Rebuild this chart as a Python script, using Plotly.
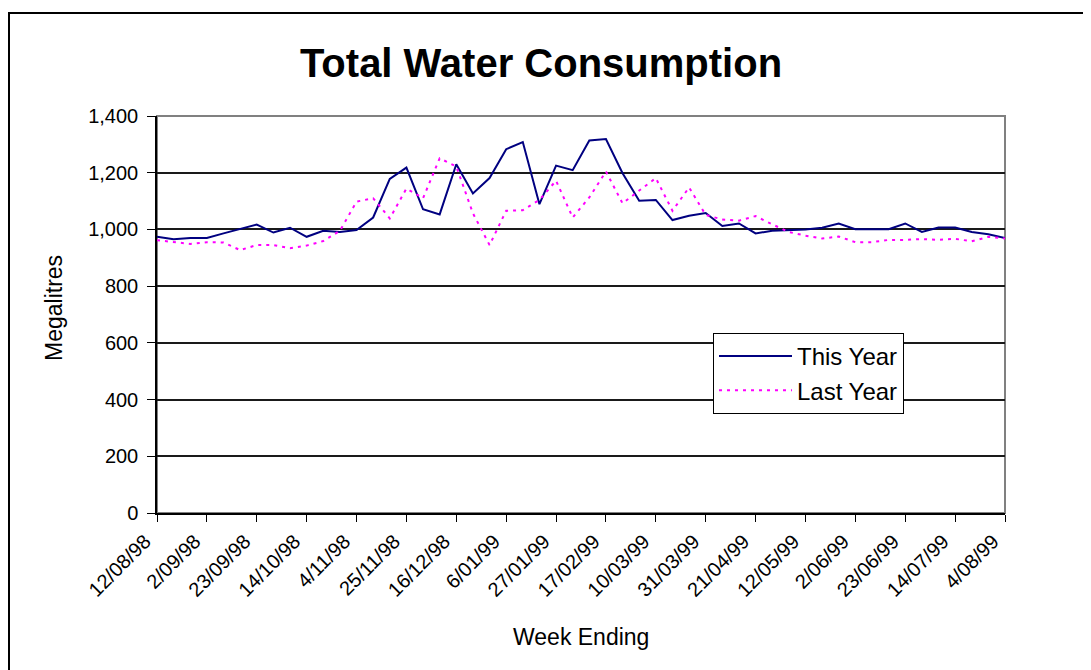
import plotly.graph_objects as go

weeks = ["12/08/98", "19/08/98", "26/08/98", "2/09/98", "9/09/98", "16/09/98", "23/09/98",
         "30/09/98", "7/10/98", "14/10/98", "21/10/98", "28/10/98", "4/11/98", "11/11/98",
         "18/11/98", "25/11/98", "2/12/98", "9/12/98", "16/12/98", "23/12/98", "30/12/98",
         "6/01/99", "13/01/99", "20/01/99", "27/01/99", "3/02/99", "10/02/99", "17/02/99",
         "24/02/99", "3/03/99", "10/03/99", "17/03/99", "24/03/99", "31/03/99", "7/04/99",
         "14/04/99", "21/04/99", "28/04/99", "5/05/99", "12/05/99", "19/05/99", "26/05/99",
         "2/06/99", "9/06/99", "16/06/99", "23/06/99", "30/06/99", "7/07/99", "14/07/99",
         "21/07/99", "28/07/99", "4/08/99"]

tick_labels = ["12/08/98", "2/09/98", "23/09/98", "14/10/98", "4/11/98", "25/11/98",
               "16/12/98", "6/01/99", "27/01/99", "17/02/99", "10/03/99", "31/03/99",
               "21/04/99", "12/05/99", "2/06/99", "23/06/99", "14/07/99", "4/08/99"]

this_year = [974, 965, 970, 970, 986, 1001, 1017, 989, 1006, 974, 995, 991, 998, 1042,
             1178, 1218, 1071, 1053, 1230, 1127, 1181, 1283, 1308, 1089, 1225, 1209,
             1314, 1319, 1198, 1101, 1104, 1033, 1048, 1058, 1012, 1021, 986, 995, 998,
             1000, 1006, 1021, 1001, 1001, 1001, 1021, 991, 1007, 1007, 991, 983, 970]

last_year = [962, 955, 949, 955, 954, 927, 945, 945, 934, 943, 959, 995, 1098, 1110,
             1039, 1144, 1110, 1251, 1222, 1057, 945, 1066, 1068, 1104, 1172, 1042,
             1113, 1204, 1092, 1137, 1181, 1066, 1148, 1051, 1035, 1031, 1047, 1018, 991,
             978, 968, 975, 955, 955, 963, 963, 966, 963, 967, 958, 974, 968]

FONT = "Arial, Liberation Sans, sans-serif"
OFF = 8  # page body margin
W, H = 1091 - OFF, 670 - OFF
# plot area in page pixels
L, R, T, B = 157, 1005, 116, 513
pw, ph = R - L, B - T

def px(x):
    return (x - L) / pw

def py(y):
    return (B - y) / ph

fig = go.Figure()
fig.add_trace(go.Scatter(x=weeks, y=this_year, mode="lines", name="This Year",
                         line=dict(color="#000080", width=2)))
fig.add_trace(go.Scatter(x=weeks, y=last_year, mode="lines", name="Last Year",
                         line=dict(color="#FF00FF", width=2, dash="3px,5px")))

fig.update_layout(
    width=W, height=H,
    margin=dict(l=L - OFF, r=(W + OFF) - R, t=T - OFF, b=(H + OFF) - B),
    paper_bgcolor="white", plot_bgcolor="white",
    font=dict(family=FONT, color="black", size=20),
    title=dict(text="<b>Total Water Consumption</b>", x=(541 - OFF) / W, xanchor="center",
               xref="container", yref="container", y=1 - (63 - OFF) / H, yanchor="middle",
               font=dict(size=40, family=FONT, color="black")),
    showlegend=True,
    legend=dict(x=px(713), y=py(333), xanchor="left", yanchor="top",
                bgcolor="white", bordercolor="black", borderwidth=1,
                font=dict(size=24, family=FONT, color="black"),
                itemwidth=73, tracegroupgap=0),
    xaxis=dict(type="category", categoryorder="array", categoryarray=weeks,
               range=[0, len(weeks) - 1], tickmode="array", tickvals=tick_labels,
               ticktext=tick_labels, tickangle=-45, ticks="outside", ticklen=7,
               tickcolor="black", tickwidth=1, showline=True, linecolor="black",
               linewidth=1.5, showgrid=False, zeroline=False, ticklabelshift=-12,
               tickfont=dict(size=20, family=FONT, color="black")),
    yaxis=dict(range=[0, 1400], dtick=200, tick0=0, tickformat=",", ticks="outside",
               ticklen=8, tickcolor="black", tickwidth=1, showline=True,
               linecolor="black", linewidth=1.5, showgrid=True, gridcolor="#1a1a1a",
               gridwidth=2, zeroline=False, ticklabelstandoff=5,
               tickfont=dict(size=20, family=FONT, color="black")),
    shapes=[
        dict(type="rect", xref="paper", yref="paper", x0=0, x1=1, y0=0, y1=1,
             line=dict(color="#808080", width=2), layer="between"),
        dict(type="rect", xref="paper", yref="paper", x0=px(9), x1=px(1110),
             y0=py(690), y1=py(13), line=dict(color="black", width=2), layer="below"),
    ],
    annotations=[
        dict(text="Week Ending", xref="paper", yref="paper", x=0.5, y=py(637),
             xanchor="center", yanchor="middle", showarrow=False,
             font=dict(size=23, family=FONT, color="black")),
        dict(text="Megalitres", xref="paper", yref="paper", x=px(54), y=py(308),
             xanchor="center", yanchor="middle", textangle=-90, showarrow=False,
             font=dict(size=23, family=FONT, color="black")),
    ],
)

fig.write_html("out.html")
